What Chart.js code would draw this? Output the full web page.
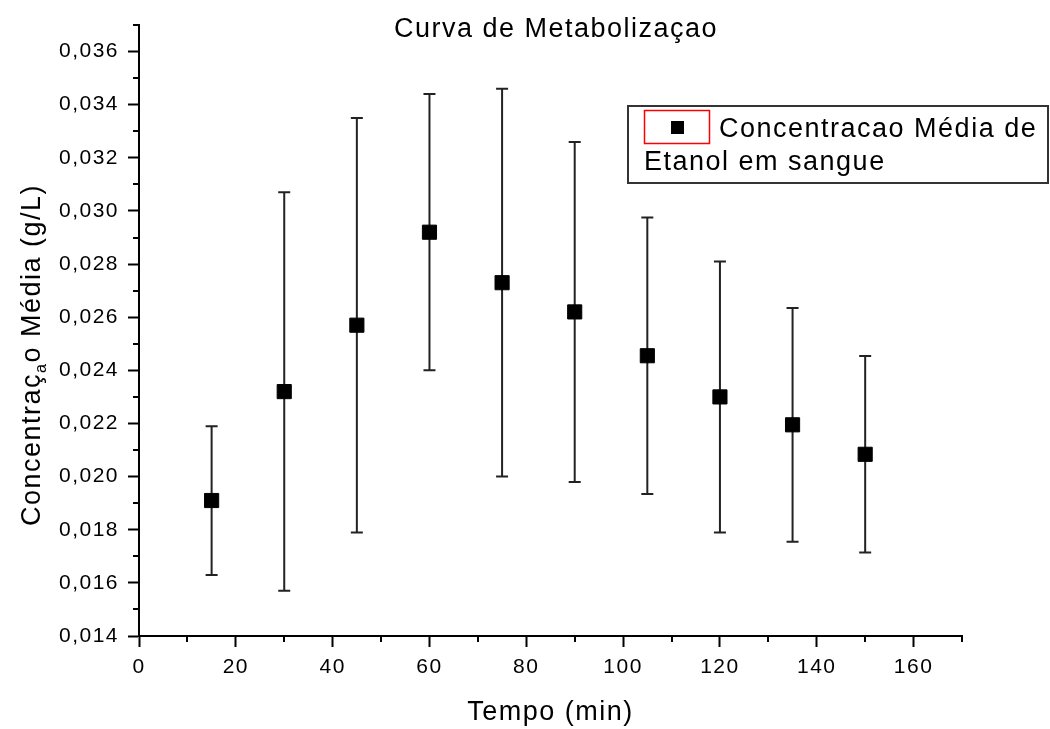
<!DOCTYPE html>
<html lang="pt-BR">
<head>
  <meta charset="UTF-8">
  <title>Curva de Metabolizaçao</title>
  <style>
    html, body { margin: 0; padding: 0; background: #fff; }
    .grafico { width: 1050px; height: 729px; position: relative; }
  </style>
</head>
<body>
  <div class="grafico">
    <canvas id="chartCurva"></canvas>
  </div>

  <script src="https://cdn.jsdelivr.net/npm/chart.js"></script>
  <script>
    // tempos de coleta (min) e concentração média com desvio padrão (g/L)
    var tempos = [15, 30, 45, 60, 75, 90, 105, 120, 135, 150];
    var concentracoes = [0.0191, 0.0232, 0.0257, 0.0292, 0.0273, 0.0262, 0.02455, 0.0230, 0.02195, 0.02084];
    var desvios = [0.0028, 0.0075, 0.0078, 0.0052, 0.0073, 0.0064, 0.0052, 0.0051, 0.0044, 0.0037];

    // marcas dos eixos
    var ticksX = [0, 20, 40, 60, 80, 100, 120, 140, 160];
    var ticksY = [0.014, 0.016, 0.018, 0.020, 0.022, 0.024, 0.026, 0.028, 0.030, 0.032, 0.034, 0.036];
    var menoresX = [10, 30, 50, 70, 90, 110, 130, 150, 170];
    var menoresY = [0.015, 0.017, 0.019, 0.021, 0.023, 0.025, 0.027, 0.029, 0.031, 0.033, 0.035, 0.037];

    var titulo = 'Curva de Metabolizaçao';
    var legendaLinha1 = 'Concentracao Média de';
    var legendaLinha2 = 'Etanol em sangue';

    var fonte = "'Liberation Sans', Arial, sans-serif";
    var espacamento = '1.5px';

    // Chart.js não tem barras de erro, então desenho por baixo dos pontos
    var pluginBarrasErro = {
      id: 'barrasErro',
      beforeDatasetsDraw: function (chart) {
        var ctx = chart.ctx;
        var escalaX = chart.scales.x;
        var escalaY = chart.scales.y;
        ctx.save();
        ctx.strokeStyle = '#222';
        ctx.lineWidth = 2;
        for (var i = 0; i < tempos.length; i++) {
          var px = escalaX.getPixelForValue(tempos[i]);
          var topo = escalaY.getPixelForValue(concentracoes[i] + desvios[i]);
          var base = escalaY.getPixelForValue(concentracoes[i] - desvios[i]);
          ctx.beginPath();
          ctx.moveTo(px, topo); ctx.lineTo(px, base);
          ctx.moveTo(px - 6, topo); ctx.lineTo(px + 6, topo);
          ctx.moveTo(px - 6, base); ctx.lineTo(px + 6, base);
          ctx.stroke();
        }
        ctx.restore();
      }
    };

    // marcas menores, título, nome do eixo y e legenda
    var pluginExtras = {
      id: 'extras',
      beforeDraw: function (chart) {
        chart.ctx.letterSpacing = espacamento;
      },
      afterDraw: function (chart) {
        var ctx = chart.ctx;
        var area = chart.chartArea;
        var escalaX = chart.scales.x;
        var escalaY = chart.scales.y;

        ctx.save();
        ctx.strokeStyle = '#000';
        ctx.lineWidth = 2;
        ctx.beginPath();
        menoresX.forEach(function (v) {
          var px = Math.round(escalaX.getPixelForValue(v));
          ctx.moveTo(px, area.bottom);
          ctx.lineTo(px, area.bottom + 6);
        });
        menoresY.forEach(function (v) {
          var py = Math.round(escalaY.getPixelForValue(v));
          ctx.moveTo(area.left - 6, py);
          ctx.lineTo(area.left, py);
        });
        ctx.stroke();

        ctx.fillStyle = '#000';
        ctx.letterSpacing = espacamento;

        // título
        ctx.font = '27px ' + fonte;
        ctx.textAlign = 'center';
        ctx.textBaseline = 'alphabetic';
        ctx.fillText(titulo, 556, 37);

        // nome do eixo y, com o "a" em subscrito
        ctx.save();
        ctx.translate(40, 355);
        ctx.rotate(-Math.PI / 2);
        ctx.textAlign = 'left';
        var parte1 = 'Concentraç', parteSub = 'a', parte2 = 'o Média (g/L)';
        ctx.font = '27px ' + fonte;
        var w1 = ctx.measureText(parte1).width;
        var w3 = ctx.measureText(parte2).width;
        ctx.font = '16px ' + fonte;
        var w2 = ctx.measureText(parteSub).width;
        var inicio = -(w1 + w2 + w3) / 2;
        ctx.font = '27px ' + fonte;
        ctx.fillText(parte1, inicio, 0);
        ctx.fillText(parte2, inicio + w1 + w2, 0);
        ctx.font = '16px ' + fonte;
        ctx.fillText(parteSub, inicio + w1, 6);
        ctx.restore();

        // legenda
        ctx.lineWidth = 2;
        ctx.strokeStyle = '#333';
        ctx.strokeRect(628, 106, 420, 77);
        ctx.lineWidth = 1.5;
        ctx.strokeStyle = '#f00';
        ctx.strokeRect(644.5, 110.5, 65, 33);
        ctx.fillStyle = '#000';
        ctx.fillRect(671, 121, 13, 13);
        ctx.font = '27px ' + fonte;
        ctx.textAlign = 'left';
        ctx.fillText(legendaLinha1, 719, 137);
        ctx.fillText(legendaLinha2, 644, 170);
        ctx.restore();
      }
    };

    var canva = document.getElementById('chartCurva');
    var grafico = new Chart(canva, {
      type: 'scatter',
      data: {
        datasets: [{
          label: legendaLinha1 + ' ' + legendaLinha2,
          data: tempos.map(function (t, i) { return { x: t, y: concentracoes[i] }; }),
          pointStyle: 'rect',
          pointRadius: 10,
          pointBorderWidth: 1,
          pointBackgroundColor: '#000',
          pointBorderColor: '#000',
          showLine: false
        }]
      },
      options: {
        responsive: true,
        maintainAspectRatio: false,
        animation: false,
        events: [],
        layout: { padding: { left: 0, top: 25, right: 88, bottom: 0 } },
        plugins: {
          legend: { display: false },
          tooltip: { enabled: false },
          title: { display: false }
        },
        scales: {
          x: {
            type: 'linear',
            min: 0,
            max: 170,
            afterBuildTicks: function (escala) {
              escala.ticks = ticksX.map(function (v) { return { value: v }; });
            },
            afterFit: function (escala) { escala.height = 93; },
            ticks: {
              color: '#000',
              padding: 8,
              autoSkip: false,
              maxRotation: 0,
              font: { size: 21, family: fonte }
            },
            grid: {
              drawOnChartArea: false,
              drawTicks: true,
              tickLength: 11,
              tickWidth: 2,
              tickColor: '#000'
            },
            border: { color: '#000', width: 2 },
            title: {
              display: true,
              text: 'Tempo (min)',
              color: '#000',
              padding: 0,
              font: { size: 27, family: fonte }
            }
          },
          y: {
            type: 'linear',
            min: 0.014,
            max: 0.037,
            afterBuildTicks: function (escala) {
              escala.ticks = ticksY.map(function (v) { return { value: v }; });
            },
            afterFit: function (escala) { escala.width = 139; },
            ticks: {
              color: '#000',
              padding: 9,
              autoSkip: false,
              font: { size: 21, family: fonte },
              callback: function (valor) { return valor.toFixed(3).replace('.', ','); }
            },
            grid: {
              drawOnChartArea: false,
              drawTicks: true,
              tickLength: 11,
              tickWidth: 2,
              tickColor: '#000'
            },
            border: { color: '#000', width: 2 }
          }
        }
      },
      plugins: [pluginBarrasErro, pluginExtras]
    });
  </script>
</body>
</html>
